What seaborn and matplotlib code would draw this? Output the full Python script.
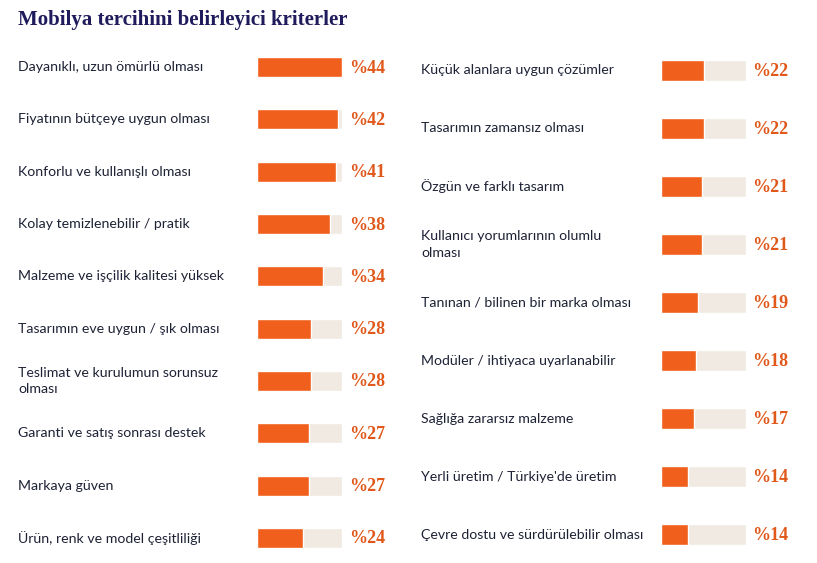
import matplotlib
matplotlib.use("Agg")
import matplotlib.pyplot as plt
import seaborn as sns
import pandas as pd

# left column
left_labels = [
    "Dayanıklı, uzun ömürlü olması",
    "Fiyatının bütçeye uygun olması",
    "Konforlu ve kullanışlı olması",
    "Kolay temizlenebilir / pratik",
    "Malzeme ve işçilik kalitesi yüksek",
    "Tasarımın eve uygun / şık olması",
    "Teslimat ve kurulumun sorunsuz\nolması",
    "Garanti ve satış sonrası destek",
    "Markaya güven",
    "Ürün, renk ve model çeşitliliği",
]
left_values = [44, 42, 41, 38, 34, 28, 28, 27, 27, 24]

# right column
right_labels = [
    "Küçük alanlara uygun çözümler",
    "Tasarımın zamansız olması",
    "Özgün ve farklı tasarım",
    "Kullanıcı yorumlarının olumlu\nolması",
    "Tanınan / bilinen bir marka olması",
    "Modüler / ihtiyaca uyarlanabilir",
    "Sağlığa zararsız malzeme",
    "Yerli üretim / Türkiye'de üretim",
    "Çevre dostu ve sürdürülebilir olması",
]
right_values = [22, 22, 21, 21, 19, 18, 17, 14, 14]

max_value = 44

ORANGE = "#F0601C"
TRACK = "#F0EAE2"
PCT = "#E0581A"
NAVY = "#1F1B5C"
TEXT = "#1E2235"

sns.set_style("white")
plt.rcParams["font.family"] = ["Lato", "DejaVu Sans"]

W, H = 817, 563
fig = plt.figure(figsize=(W / 100, H / 100), dpi=100)


def draw_column(labels, values, bar_x0, bar_x1, label_x, pct_x, bar_px):
    # axis covers only the bar track area, rows span y=41..564 px
    top, bottom = 41, 564
    ax = fig.add_axes([bar_x0 / W, 1 - bottom / H, (bar_x1 - bar_x0) / W, (bottom - top) / H])
    n = len(values)
    df = pd.DataFrame({"label": labels, "value": values, "track": [max_value] * n})
    row_px = (bottom - top) / n
    width = bar_px / row_px
    sns.barplot(data=df, x="track", y="label", orient="h", color=TRACK,
                width=width, saturation=1, ax=ax)
    sns.barplot(data=df, x="value", y="label", orient="h", color=ORANGE,
                width=width, saturation=1, ax=ax)
    ax.set_xlim(0, max_value)
    ax.set_ylim(n - 0.5, -0.5)
    ax.axis("off")
    for i, (lab, val) in enumerate(zip(labels, values)):
        ax.annotate(lab, xy=(0, i), xycoords="data",
                    xytext=(label_x - bar_x0, 0), textcoords="offset pixels",
                    ha="left", va="center", fontsize=10.2, color=TEXT,
                    linespacing=1.45, annotation_clip=False)
        ax.annotate(f"%{val}", xy=(max_value, i), xycoords="data",
                    xytext=(pct_x - bar_x1, -1), textcoords="offset pixels",
                    ha="left", va="center", fontsize=13, color=PCT,
                    fontweight="bold", family="Liberation Serif",
                    annotation_clip=False)
    return ax


draw_column(left_labels, left_values, 257, 342, 18, 349, 20)
draw_column(right_labels, right_values, 661, 746, 421, 752, 21)

fig.text(18 / W, 1 - 20 / H, "Mobilya tercihini belirleyici kriterler",
         ha="left", va="center", fontsize=15, fontweight="bold",
         color=NAVY, family="Liberation Serif")

fig.savefig("out.png", dpi=100, facecolor="white")
